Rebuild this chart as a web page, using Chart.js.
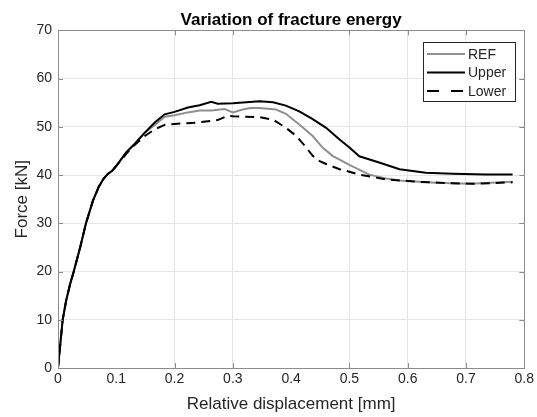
<!DOCTYPE html>
<html>
<head>
<meta charset="utf-8">
<script src="https://cdn.jsdelivr.net/npm/chart.js@4.4.1/dist/chart.umd.min.js"></script>
<style>
  html, body { margin: 0; padding: 0; background: #ffffff; }
  #wrap { width: 537px; height: 417px; }
</style>
</head>
<body>
<div id="wrap"><canvas id="chartFracture" width="537" height="417"></canvas></div>
<script>
// values
const refDisp = [0, 0.004, 0.008, 0.014, 0.021, 0.027, 0.038, 0.048, 0.060, 0.070, 0.078, 0.086, 0.093, 0.100, 0.108, 0.117, 0.131, 0.149,
    0.166, 0.183, 0.200, 0.223, 0.243, 0.263, 0.286, 0.300, 0.317, 0.330, 0.346, 0.374, 0.391, 0.414, 0.437, 0.454, 0.471, 0.500,
    0.534, 0.563, 0.591, 0.649, 0.706, 0.780];
const refForce = [0, 5, 10, 14, 17.5, 20, 25, 30, 34.7, 37.6, 39.2, 40.3, 40.9, 41.9, 43.2, 44.7, 46.4, 48.8,
    50.4, 52.1, 52.4, 53.0, 53.4, 53.4, 53.7, 53.0, 53.6, 53.9, 53.9, 53.6, 52.7, 50.5, 48.1, 45.7, 44.0, 42.1,
    40.1, 39.3, 38.8, 38.4, 38.2, 38.6];

const upperDisp = [0, 0.004, 0.008, 0.014, 0.021, 0.027, 0.038, 0.048, 0.060, 0.070, 0.078, 0.086, 0.093, 0.100, 0.108, 0.117, 0.131, 0.149,
    0.166, 0.183, 0.200, 0.223, 0.243, 0.263, 0.274, 0.300, 0.323, 0.346, 0.369, 0.391, 0.414, 0.437, 0.460, 0.483, 0.500,
    0.517, 0.551, 0.586, 0.631, 0.677, 0.734, 0.780];
const upperForce = [0, 5, 10, 14, 17.5, 20, 25, 30, 34.7, 37.6, 39.2, 40.3, 40.9, 41.9, 43.2, 44.7, 46.4, 48.8,
    50.9, 52.6, 53.1, 54.0, 54.5, 55.2, 54.8, 54.9, 55.1, 55.3, 55.1, 54.4, 53.2, 51.6, 49.8, 47.4, 45.7,
    43.9, 42.6, 41.2, 40.5, 40.3, 40.1, 40.1];

const lowerDisp = [0, 0.004, 0.008, 0.014, 0.021, 0.027, 0.038, 0.048, 0.060, 0.070, 0.078, 0.086, 0.093, 0.100, 0.108, 0.117, 0.131, 0.149,
    0.166, 0.183, 0.200, 0.240, 0.274, 0.291, 0.300, 0.320, 0.346, 0.369, 0.391, 0.409, 0.426, 0.437, 0.449, 0.460, 0.483, 0.494,
    0.517, 0.563, 0.620, 0.677, 0.711, 0.780];
const lowerForce = [0, 5, 10, 14, 17.5, 20, 25, 30, 34.7, 37.6, 39.2, 40.3, 40.9, 41.9, 43.0, 44.4, 46.2, 48.1,
    49.5, 50.4, 50.6, 50.9, 51.4, 52.3, 52.2, 52.1, 52.0, 51.5, 49.8, 48.1, 45.7, 44.0, 42.9, 42.3, 41.2, 40.9,
    40.1, 39.1, 38.6, 38.3, 38.2, 38.5];

const xTicks = [0, 0.1, 0.2, 0.3, 0.4, 0.5, 0.6, 0.7, 0.8];
const yTicks = [0, 10, 20, 30, 40, 50, 60, 70];

// grid lines the reference does not show
const hiddenX = [0.1, 0.4];
const isHiddenX = v => hiddenX.some(h => Math.abs(h - v) < 1e-6);

const FONT = '"Liberation Sans", Arial, Helvetica, sans-serif';
const TEXT = '#262626';

const toPoints = (xs, ys) => xs.map((x, i) => ({ x: x, y: ys[i] }));

// box, inward ticks and the legend, drawn the way MATLAB does
const boxPlugin = {
    id: 'matlabBox',
    afterDatasetsDraw(chart) {
        const { ctx, chartArea: a, scales } = chart;
        ctx.save();
        ctx.strokeStyle = '#8c8c8c';
        ctx.lineWidth = 1;
        ctx.beginPath();
        xTicks.forEach(v => {
            if (isHiddenX(v)) return;
            const px = Math.round(scales.x.getPixelForValue(v)) + 0.5;
            ctx.moveTo(px, a.bottom); ctx.lineTo(px, a.bottom - 5);
            ctx.moveTo(px, a.top); ctx.lineTo(px, a.top + 5);
        });
        yTicks.forEach(v => {
            const py = Math.round(scales.y.getPixelForValue(v)) + 0.5;
            ctx.moveTo(a.left, py); ctx.lineTo(a.left + 5, py);
            ctx.moveTo(a.right, py); ctx.lineTo(a.right - 5, py);
        });
        ctx.stroke();
        ctx.strokeRect(Math.round(a.left) + 0.5, Math.round(a.top) + 0.5,
            Math.round(a.right - a.left), Math.round(a.bottom - a.top));

        // legend
        const lx = 423, ly = 42, lw = 92, lh = 59;
        ctx.fillStyle = '#ffffff';
        ctx.fillRect(lx, ly, lw, lh);
        ctx.strokeStyle = '#262626';
        ctx.strokeRect(lx + 0.5, ly + 0.5, lw, lh);
        ctx.font = '14px ' + FONT;
        ctx.textBaseline = 'middle';
        ctx.textAlign = 'left';
        chart.data.datasets.forEach((ds, i) => {
            const y = ly + 12 + i * 18.5;
            ctx.beginPath();
            ctx.strokeStyle = ds.borderColor;
            ctx.lineWidth = ds.borderWidth;
            ctx.setLineDash(ds.borderDash && ds.borderDash.length ? [12, 12] : []);
            ctx.moveTo(lx + 4, y);
            ctx.lineTo(lx + 42, y);
            ctx.stroke();
            ctx.setLineDash([]);
            ctx.fillStyle = TEXT;
            ctx.fillText(ds.label, lx + 45, y + 1);
        });
        ctx.restore();
    }
};

new Chart(document.getElementById('chartFracture').getContext('2d'), {
    type: 'scatter',
    data: {
        datasets: [
            {
                label: 'REF',
                data: toPoints(refDisp, refForce),
                showLine: true,
                borderColor: '#8f8f8f',
                borderWidth: 2,
                pointRadius: 0,
                tension: 0,
                order: 3
            },
            {
                label: 'Upper',
                data: toPoints(upperDisp, upperForce),
                showLine: true,
                borderColor: '#000000',
                borderWidth: 2,
                pointRadius: 0,
                tension: 0,
                order: 2
            },
            {
                label: 'Lower',
                data: toPoints(lowerDisp, lowerForce),
                showLine: true,
                borderColor: '#000000',
                borderWidth: 2,
                borderDash: [9, 6],
                pointRadius: 0,
                tension: 0,
                order: 1
            }
        ]
    },
    options: {
        responsive: false,
        animation: false,
        devicePixelRatio: 1,
        layout: { padding: { left: 0, right: 12, top: 0, bottom: 0 } },
        plugins: {
            legend: { display: false },
            tooltip: { enabled: false },
            title: {
                display: true,
                text: 'Variation of fracture energy',
                fullSize: false,
                color: '#000000',
                font: { family: FONT, size: 17, weight: 'bold' },
                padding: { top: 10, bottom: 0 }
            }
        },
        scales: {
            x: {
                type: 'linear',
                min: 0,
                max: 0.8,
                afterBuildTicks: scale => { scale.ticks = xTicks.map(v => ({ value: v })); },
                afterFit: scale => { scale.height = 49; },
                border: { display: false },
                grid: {
                    drawTicks: false,
                    color: c => (c.tick && isHiddenX(c.tick.value)) ? 'rgba(0,0,0,0)' : '#e6e6e6'
                },
                ticks: {
                    padding: 3,
                    color: TEXT,
                    font: { family: FONT, size: 14 },
                    maxRotation: 0,
                    callback: v => String(Number(v.toFixed(1)))
                },
                title: {
                    display: true,
                    text: 'Relative displacement [mm]',
                    color: TEXT,
                    font: { family: FONT, size: 17 },
                    padding: { top: 0, bottom: 2 }
                }
            },
            y: {
                type: 'linear',
                min: 0,
                max: 70,
                afterBuildTicks: scale => { scale.ticks = yTicks.map(v => ({ value: v })); },
                afterFit: scale => { scale.width = 58; },
                border: { display: false },
                grid: { drawTicks: false, color: '#e6e6e6' },
                ticks: {
                    padding: 6,
                    color: TEXT,
                    font: { family: FONT, size: 14 }
                },
                title: {
                    display: true,
                    text: 'Force [kN]',
                    color: TEXT,
                    font: { family: FONT, size: 17 },
                    padding: { top: 12, bottom: 0 }
                }
            }
        }
    },
    plugins: [boxPlugin]
});
</script>
</body>
</html>
